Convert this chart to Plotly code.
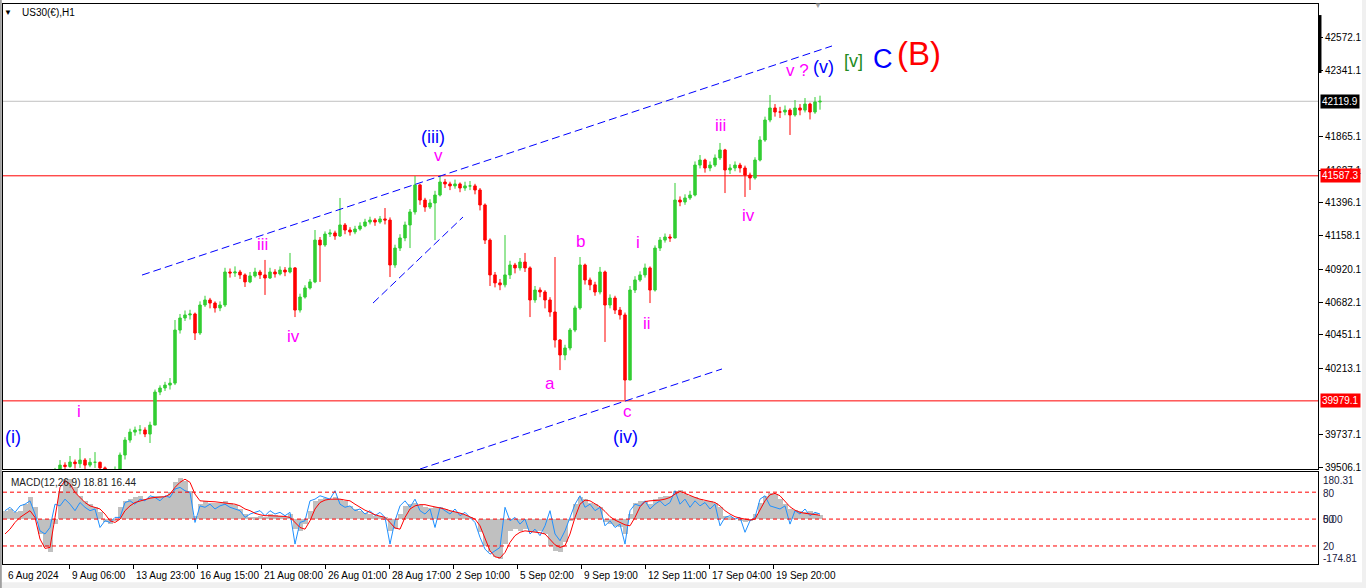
import plotly.graph_objects as go

# ---------------- data ----------------
# H1 chart of US30, sampled as one bar per 5 hours
first_open = 39280
closes = [
    39300, 39330, 39290, 39360, 39410, 39440, 39390, 39420, 39400, 39440,
    39470, 39520, 39510, 39542, 39530, 39556, 39520, 39540, 39540, 39500,
    39450, 39470, 39480, 39592, 39699, 39756, 39771, 39771, 39742, 39806,
    40042, 40071, 40092, 40106, 40485, 40571, 40593, 40600, 40464, 40664,
    40700, 40678, 40643, 40664, 40900, 40893, 40900, 40879, 40829, 40872,
    40900, 40879, 40857, 40900, 40886, 40914, 40900, 40929, 40628, 40721,
    40786, 40829, 41128, 41093, 41171, 41179, 41157, 41236, 41200, 41186,
    41207, 41229, 41257, 41271, 41257, 41279, 41271, 40950, 41071, 41143,
    41236, 41329, 41522, 41414, 41364, 41393, 41450, 41543, 41529, 41515,
    41529, 41500, 41515, 41515, 41486, 41379, 41128, 40879, 40822, 40808,
    40879, 40950, 40929, 40971, 40929, 40700, 40771, 40757, 40700, 40614,
    40414, 40307, 40357, 40485, 40643, 40950, 40843, 40808, 40757, 40900,
    40664, 40714, 40628, 40593, 40128, 40771, 40843, 40879, 40929, 40771,
    41071, 41128, 41150, 41143, 41414, 41400, 41429, 41450, 41664, 41700,
    41643, 41664, 41715, 41772, 41629, 41643, 41664, 41643, 41593, 41572,
    41700, 41843, 41986, 42072, 42043, 42043, 42057, 42022, 42072, 42057,
    42100, 42043, 42115, 42120,
]
highs = [
    39360, 39370, 39350, 39390, 39440, 39490, 39450, 39450, 39440, 39470,
    39500, 39556, 39540, 39585, 39560, 39642, 39570, 39570, 39613, 39545,
    39510, 39490, 39510, 39610, 39720, 39780, 39795, 39806, 39790, 39830,
    40060, 40090, 40115, 40142, 40557, 40600, 40625, 40630, 40610, 40690,
    40730, 40715, 40690, 40690, 40930, 40925, 40940, 40915, 40890, 40900,
    40930, 40915, 40986, 40930, 40920, 40940, 40935, 41036, 40935, 40745,
    40805, 40850, 41200, 41150, 41190, 41205, 41195, 41429, 41250, 41220,
    41230, 41255, 41280, 41295, 41285, 41300, 41357, 41290, 41095, 41170,
    41260, 41350, 41586, 41530, 41430, 41420, 41480, 41586, 41565, 41545,
    41560, 41540, 41545, 41550, 41530, 41500, 41390, 41140, 40900, 40850,
    41164, 40980, 40965, 41000, 41036, 40940, 40800, 40790, 40770, 40720,
    41007, 40420, 40380, 40500, 40660, 41007, 40960, 40860, 40830, 40936,
    40910, 40740, 40730, 40650, 40610, 40800, 40870, 40905, 40960, 40940,
    41090, 41150, 41175, 41170, 41536, 41440, 41455, 41480, 41690, 41736,
    41710, 41690, 41740, 41822, 41780, 41670, 41690, 41680, 41660, 41610,
    41720, 41870, 42010, 42165, 42100, 42080, 42090, 42070, 42129, 42100,
    42143, 42110, 42150, 42160,
]
lows = [
    39250, 39280, 39260, 39280, 39340, 39390, 39360, 39370, 39370, 39390,
    39420, 39460, 39480, 39500, 39495, 39500, 39490, 39505, 39500, 39470,
    39420, 39430, 39440, 39470, 39560, 39680, 39730, 39740, 39720, 39678,
    39806, 40020, 40050, 40060, 40092, 40460, 40550, 40560, 40414, 40450,
    40650, 40640, 40610, 40620, 40650, 40860, 40865, 40850, 40793, 40820,
    40860, 40850, 40736, 40850, 40860, 40875, 40870, 40890, 40578, 40610,
    40710, 40775, 40820, 40829, 41080, 41150, 41130, 41150, 41170, 41160,
    41170, 41195, 41220, 41240, 41230, 41245, 41240, 40864, 40930, 41050,
    41120, 41071, 41310, 41380, 41330, 41350, 41128, 41440, 41500, 41485,
    41495, 41470, 41480, 41485, 41455, 41340, 41100, 40800, 40790, 40770,
    40790, 40850, 40890, 40910, 40900, 40578, 40680, 40720, 40640, 40580,
    40360, 40199, 40270, 40340, 40470, 40630, 40810, 40770, 40730, 40740,
    40400, 40640, 40600, 40560, 39985, 40128, 40750, 40830, 40860, 40678,
    40760, 41050, 41110, 41115, 41140, 41370, 41380, 41415, 41440, 41640,
    41610, 41620, 41650, 41700, 41464, 41600, 41620, 41610, 41436, 41486,
    41560, 41690, 41830, 41970, 42010, 42000, 42020, 41879, 42010, 42020,
    42040, 41990, 42030, 42060,
]
macd_hist = [
    35, 42, 28, 35, 62, 90, 49, -62, -118, -139,
    -21, 118, 166, 166, 132, 97, 76, 62, 49, 28,
    -14, -21, -7, 49, 76, 83, 90, 97, 83, 90,
    97, 97, 90, 111, 153, 173, 160, 118, 14, 62,
    76, 69, 65, 69, 76, 65, 60, 42, 21, 10,
    7, 14, 10, 21, 18, 14, 10, 21, -42, -49,
    -21, 35, 76, 83, 87, 83, 90, 83, 76, 55,
    42, 35, 24, 21, 14, 14, 7, -49, -42, 21,
    55, 62, 69, 60, 51, 46, 49, 51, 42, 35,
    28, 24, 18, 10, 0, -55, -111, -139, -157, -166,
    -104, -49, -42, -49, -42, -55, -55, -49, -62, -111,
    -132, -139, -97, -7, 62, 90, 83, 69, 62, 49,
    -14, -21, -28, -35, -62, 21, 69, 76, 76, 62,
    83, 90, 97, 97, 118, 121, 104, 97, 90, 83,
    76, 76, 69, 49, 14, 7, 0, -7, -14, -10,
    21, 69, 97, 107, 104, 83, 62, 42, 37, 32,
    28, 32, 24, 19,
]
macd_signal = [
    -62, -42, -14, 7, 21, 35, 7, -83, -122, -118,
    7, 132, 160, 146, 111, 90, 69, 55, 49, 42,
    21, -7, -14, 0, 35, 55, 69, 76, 83, 87,
    90, 90, 93, 104, 132, 153, 166, 153, 104, 76,
    76, 73, 72, 69, 69, 65, 62, 55, 42, 35,
    24, 18, 14, 14, 14, 12, 11, 7, -14, -35,
    -42, -7, 42, 69, 79, 83, 83, 83, 79, 76,
    62, 49, 37, 28, 18, 12, 7, -14, -37, -42,
    7, 42, 55, 60, 60, 55, 51, 49, 42, 35,
    31, 25, 18, 10, 0, -28, -83, -132, -157, -162,
    -139, -97, -69, -55, -49, -51, -55, -57, -62, -83,
    -107, -118, -111, -62, 7, 62, 79, 76, 65, 51,
    32, 10, -4, -14, -24, -28, 7, 51, 73, 76,
    76, 79, 83, 90, 104, 115, 107, 97, 90, 83,
    79, 76, 69, 55, 35, 21, 10, 4, 0, -4,
    0, 35, 76, 101, 107, 97, 76, 51, 37, 28,
    24, 21, 18, 16,
]
macd_blue = [
    35, 49, 28, 55, 62, 76, 21, -49, -62, -35,
    62, 55, 83, 62, 35, 69, 49, 35, 42, -35,
    -7, -14, 7, 7, 69, 76, 62, 83, 76, 97,
    90, 76, 97, 90, 125, 132, 118, 111, -14, 55,
    49, 62, 42, 55, 62, 49, 42, 35, 7, 21,
    28, 35, 14, 35, 21, 28, 14, 28, -104, -14,
    -7, 76, 83, 97, 90, 83, 118, 62, 49, 55,
    35, 42, 21, 35, 14, 28, 7, -104, -7, 55,
    76, 49, 83, 35, 21, 42, -35, 49, 35, 21,
    42, 14, 28, 7, -14, -76, -125, -146, -132, -118,
    49, -7, 7, -21, 0, -62, -42, -69, -28, 35,
    -62, -90, -49, 7, 62, 97, 49, 62, 35, 49,
    -28, -7, -35, -21, -104, 35, 62, 55, 76, 42,
    62, 76, 55, 69, 118, 62, 83, 49, 76, 55,
    69, 42, 62, -28, 7, 14, 0, 7, -55, -7,
    7, 83, 97, 55, 49, 42, 55, -21, 35, 21,
    42, 14, 28, 21,
]
price_ticks = [42572.1, 42341.1, 41865.1, 41627.1, 41396.1, 41158.1,
               40920.1, 40682.1, 40451.1, 40213.1, 39737.1, 39506.1]
time_labels = ["6 Aug 2024", "9 Aug 06:00", "13 Aug 23:00", "16 Aug 15:00",
               "21 Aug 08:00", "26 Aug 01:00", "28 Aug 17:00", "2 Sep 10:00",
               "5 Sep 02:00", "9 Sep 19:00", "12 Sep 11:00", "17 Sep 04:00",
               "19 Sep 20:00"]
resistance = 41587.3
support = 39979.1
bid = 42119.9
macd_now = (18.81, 16.44)

# ---------------- derived positions ----------------
n = len(closes)
bar_x = [2 + 5 * k for k in range(n)]           # hour index of each bar
opens = [first_open] + closes[:-1]
highs_f = [max(h, o, c) for h, o, c in zip(highs, opens, closes)]
lows_f = [min(l, o, c) for l, o, c in zip(lows, opens, closes)]
time_x = [2] + [66 + 64 * i for i in range(len(time_labels) - 1)]

FONT = "Liberation Sans"
GREEN = "#32CD32"
RED = "#FF0000"
MAG = "#FF00FF"
BLUE = "#0000FF"

fig = go.Figure()
fig.add_trace(go.Candlestick(
    x=bar_x, open=opens, high=highs_f, low=lows_f, close=closes,
    increasing=dict(line=dict(color=GREEN, width=1), fillcolor=GREEN),
    decreasing=dict(line=dict(color=RED, width=1), fillcolor=RED),
    whiskerwidth=0, xaxis="x", yaxis="y", hoverinfo="skip",
))
fig.add_trace(go.Bar(x=bar_x, y=macd_hist, width=5, marker=dict(color="#C0C0C0", line=dict(width=0)),
                     xaxis="x2", yaxis="y2", hoverinfo="skip"))
fig.add_trace(go.Scatter(x=bar_x, y=macd_blue, mode="lines", line=dict(color="#1E90FF", width=1),
                         xaxis="x2", yaxis="y2", hoverinfo="skip"))
fig.add_trace(go.Scatter(x=bar_x, y=macd_signal, mode="lines", line=dict(color=RED, width=1),
                         xaxis="x2", yaxis="y2", hoverinfo="skip"))

shapes = []
# window frame strips (terminal chrome)
shapes.append(dict(type="rect", xref="paper", yref="paper", x0=-0.01, x1=1.05, y0=-0.06, y1=-0.0325,
                   fillcolor="#F0F0F0", line=dict(width=0), layer="below"))
shapes.append(dict(type="rect", xref="paper", yref="paper", x0=1.0335, x1=1.05, y0=-0.06, y1=1.01,
                   fillcolor="#F0F0F0", line=dict(width=0), layer="below"))
shapes.append(dict(type="rect", xref="paper", yref="paper", x0=-0.0025, x1=-0.0009, y0=-0.06, y1=1.01,
                   fillcolor="#A0A0A0", line=dict(width=0), layer="below"))
# horizontal levels
for lvl, col in [(resistance, RED), (support, RED), (bid, "#C0C0C0")]:
    shapes.append(dict(type="line", xref="paper", x0=0, x1=1, yref="y", y0=lvl, y1=lvl,
                       line=dict(color=col, width=1), layer="below"))
# channel trend lines (wave-count drawing objects)
trendlines = [((139, 40878), (829, 42515)), ((417, 39492), (719, 40207)), ((370, 40678), (460, 41293))]
for (x0, y0), (x1, y1) in trendlines:
    shapes.append(dict(type="line", xref="x", yref="y", x0=x0, y0=y0, x1=x1, y1=y1,
                       line=dict(color=BLUE, width=1, dash="8px,4px")))
# MACD levels
for lv in (112, 0, -112):
    shapes.append(dict(type="line", xref="paper", x0=0, x1=1, yref="y2", y0=lv, y1=lv,
                       line=dict(color=RED, width=1, dash="4px,3px")))
# scale bar on price axis
shapes.append(dict(type="line", xref="paper", x0=1.0015, x1=1.0015, yref="y", y0=42736, y1=42322,
                   line=dict(color="black", width=3)))

ann = []
wave_labels = [
    ("(i)", 10, 39720, BLUE, 18), ("i", 76, 39906, MAG, 17), ("iii", 259, 41093, MAG, 17),
    ("iv", 290, 40442, MAG, 17), ("(iii)", 430, 41865, BLUE, 18), ("v", 435, 41736, MAG, 17),
    ("a", 547, 40106, MAG, 17), ("b", 577, 41121, MAG, 17), ("c", 624, 39906, MAG, 17),
    ("(iv)", 622, 39720, BLUE, 18), ("i", 635, 41114, MAG, 17), ("ii", 644, 40535, MAG, 17),
    ("iii", 717, 41950, MAG, 17), ("iv", 745, 41307, MAG, 17), ("v ?", 794, 42343, MAG, 17),
    ("(v)", 820, 42365, BLUE, 18), ("[v]", 850, 42408, "#228B22", 18),
    ("C", 880, 42422, BLUE, 27), ("(B)", 916, 42458, RED, 33),
]
for t, x, y, c, s in wave_labels:
    ann.append(dict(text=t, x=x, y=y, xref="x", yref="y", showarrow=False,
                    font=dict(family=FONT, size=s, color=c), xanchor="center", yanchor="middle"))

# price-axis label boxes
for lvl, bg in [(bid, "black"), (resistance, RED), (support, RED)]:
    ann.append(dict(text=f"{lvl:.1f}", x=1, y=lvl, xref="paper", yref="y", showarrow=False,
                    xanchor="left", yanchor="middle", xshift=2, bgcolor=bg, borderpad=1,
                    font=dict(family=FONT, size=10, color="white")))

# time labels
for t, x in zip(time_labels, time_x):
    ann.append(dict(text=t, x=x, y=-0.021, xref="x2", yref="paper", showarrow=False,
                    xanchor="left", yanchor="middle", xshift=1,
                    font=dict(family=FONT, size=10, color="black")))

# MACD scale labels
for t, v in [("180.31", 162), ("80", 108), ("50", 0), ("0.00", 0), ("20", -116), ("-174.81", -166)]:
    ann.append(dict(text=t, x=1, y=v, xref="paper", yref="y2", showarrow=False, xanchor="left",
                    yanchor="middle", xshift=3, font=dict(family=FONT, size=10, color="#202040")))

# titles
ann.append(dict(text="▼", x=0.0038, y=0.9857, xref="paper", yref="paper", showarrow=False,
                xanchor="center", yanchor="middle", font=dict(family=FONT, size=8, color="black")))
ann.append(dict(text="US30(€),H1", x=0.0129, y=0.9857, xref="paper", yref="paper", showarrow=False,
                xanchor="left", yanchor="middle", font=dict(family=FONT, size=10, color="black")))
ann.append(dict(text=f"MACD(12,26,9) {macd_now[0]:.2f} {macd_now[1]:.2f}", x=0.0046, y=0.1464,
                xref="paper", yref="paper", showarrow=False, xanchor="left", yanchor="middle",
                font=dict(family=FONT, size=10, color="#202020")))
ann.append(dict(text="▼", x=815, y=0.997, xref="x", yref="paper", showarrow=False,
                xanchor="center", yanchor="middle", font=dict(family=FONT, size=8, color="#A0A0A0")))

axis_common = dict(showgrid=False, zeroline=False, showline=True, mirror=True,
                   linecolor="black", linewidth=1)
fig.update_layout(
    width=1366, height=588,
    margin=dict(l=3, r=48, t=4, b=24),
    paper_bgcolor="white", plot_bgcolor="white",
    showlegend=False, hovermode=False, bargap=0,
    shapes=shapes, annotations=ann,
    xaxis=dict(domain=[0, 1], range=[0, 1315], anchor="y", showticklabels=False,
               rangeslider=dict(visible=False), **axis_common),
    yaxis=dict(domain=[0.1696, 1], range=[39492, 42815], side="right", anchor="x",
               tickmode="array", tickvals=price_ticks, ticktext=[f"{v:.1f}" for v in price_ticks],
               ticks="outside", ticklen=4, tickcolor="black",
               tickfont=dict(family=FONT, size=10, color="black"), **axis_common),
    xaxis2=dict(domain=[0, 1], range=[0, 1315], anchor="y2", matches="x",
                tickmode="array", tickvals=time_x[1:], ticktext=["" for _ in time_x[1:]],
                ticks="outside", ticklen=4, tickcolor="black", **axis_common),
    yaxis2=dict(domain=[0, 0.1643], range=[-187, 196], side="right", anchor="x2",
                showticklabels=False, ticks="", **axis_common),
)

fig.write_html("out.html", config={"displayModeBar": False},
               post_script="document.body.style.margin='0';document.body.style.overflow='hidden';")
